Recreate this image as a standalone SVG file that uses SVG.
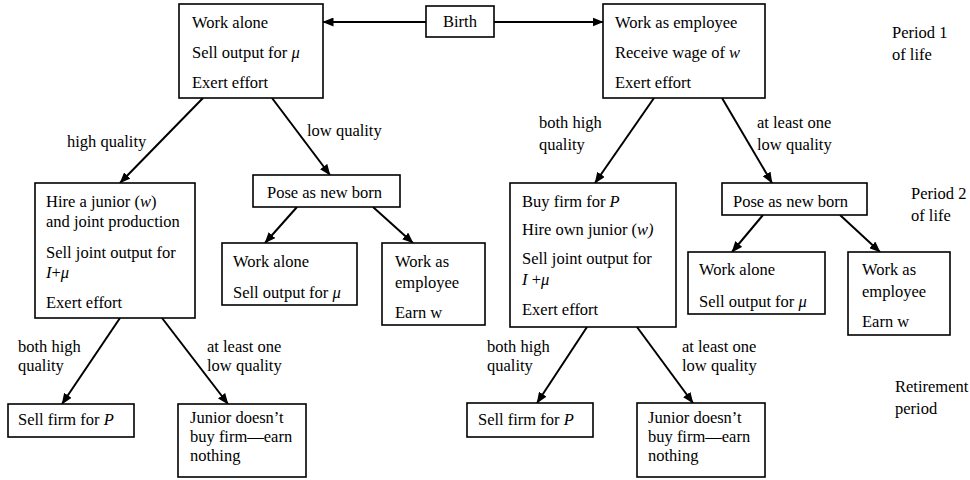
<svg xmlns="http://www.w3.org/2000/svg" width="970" height="480" viewBox="0 0 970 480">
<defs>
<marker id="arr" viewBox="0 0 11 9" refX="10.5" refY="4.5" markerWidth="11" markerHeight="9" markerUnits="userSpaceOnUse" orient="auto">
<path d="M0,0 L11,4.5 L0,9 z" fill="#000"/>
</marker>
<style>
rect{fill:#fff;stroke:#000;stroke-width:1.6}
text{font-family:"Liberation Serif","Times New Roman",serif;font-size:16.5px;fill:#000}
.i{font-style:italic}
#connectors line{stroke:#000;stroke-width:2;marker-end:url(#arr)}
</style>
</defs>
<rect x="0" y="0" width="970" height="480" style="fill:#fff;stroke:none"/>

<g id="connectors">
<line x1="426" y1="22" x2="323" y2="22"/>
<line x1="494" y1="22" x2="603" y2="22"/>
<line x1="203" y1="98" x2="120" y2="183"/>
<line x1="272" y1="98" x2="330" y2="175"/>
<line x1="297" y1="207" x2="265" y2="243"/>
<line x1="373" y1="207" x2="413" y2="243"/>
<line x1="120" y1="318" x2="62" y2="404"/>
<line x1="162" y1="318" x2="228" y2="404"/>
<line x1="654" y1="98" x2="595" y2="183"/>
<line x1="722" y1="98" x2="772" y2="183"/>
<line x1="763" y1="215" x2="732" y2="252"/>
<line x1="840" y1="215" x2="880" y2="252"/>
<line x1="587" y1="327" x2="537" y2="403"/>
<line x1="637" y1="327" x2="693" y2="403"/>
</g>

<g id="labels">
<text x="67" y="147">high  quality</text>
<text x="307" y="136">low quality</text>
<text x="539" y="128">both high</text>
<text x="539" y="150">quality</text>
<text x="757" y="128">at least one</text>
<text x="757" y="150">low quality</text>
<text x="18" y="352">both high</text>
<text x="18" y="371">quality</text>
<text x="207" y="352">at least one</text>
<text x="207" y="371">low quality</text>
<text x="487" y="352">both high</text>
<text x="487" y="371">quality</text>
<text x="682" y="352">at least one</text>
<text x="682" y="371">low quality</text>
<text x="892" y="38">Period 1</text>
<text x="892" y="60">of life</text>
<text x="911" y="199">Period 2</text>
<text x="911" y="221">of life</text>
<text x="895" y="392">Retirement</text>
<text x="895" y="414">period</text>
</g>

<g id="birth">
<rect x="426" y="6" width="68" height="31"/>
<text x="460" y="27" text-anchor="middle">Birth</text>
</g>

<g id="work-alone-1">
<rect x="179" y="4" width="144" height="94"/>
<text x="192" y="28">Work alone</text>
<text x="192" y="58">Sell output for <tspan class="i">μ</tspan></text>
<text x="192" y="88">Exert effort</text>
</g>

<g id="employee-1">
<rect x="603" y="4" width="162" height="94"/>
<text x="615" y="28">Work as employee</text>
<text x="615" y="58">Receive wage of <tspan class="i">w</tspan></text>
<text x="615" y="88">Exert effort</text>
</g>

<g id="hire-junior">
<rect x="35" y="183" width="160" height="135"/>
<text x="46" y="207">Hire a junior (<tspan class="i">w</tspan>)</text>
<text x="46" y="227">and joint production</text>
<text x="46" y="258">Sell joint output for</text>
<text x="46" y="278"><tspan class="i">I</tspan>+<tspan class="i">μ</tspan></text>
<text x="46" y="308">Exert effort</text>
</g>

<g id="pose-left">
<rect x="253" y="175" width="147" height="32"/>
<text x="267" y="198">Pose as new born</text>
</g>

<g id="work-alone-left">
<rect x="222" y="243" width="135" height="62"/>
<text x="233" y="267">Work alone</text>
<text x="233" y="298">Sell output for <tspan class="i">μ</tspan></text>
</g>

<g id="employee-left">
<rect x="382" y="243" width="103" height="82"/>
<text x="395" y="267">Work as</text>
<text x="395" y="288">employee</text>
<text x="395" y="318">Earn w</text>
</g>

<g id="sell-firm-left">
<rect x="8" y="404" width="126" height="33"/>
<text x="18" y="425">Sell firm for <tspan class="i">P</tspan></text>
</g>

<g id="junior-left">
<rect x="178" y="404" width="128" height="73"/>
<text x="190" y="423">Junior doesn’t</text>
<text x="190" y="442">buy firm—earn</text>
<text x="190" y="461">nothing</text>
</g>

<g id="buy-firm">
<rect x="510" y="183" width="166" height="144"/>
<text x="522" y="207">Buy firm for <tspan class="i">P</tspan></text>
<text x="522" y="235">Hire own junior (<tspan class="i">w)</tspan></text>
<text x="522" y="264">Sell joint output for</text>
<text x="522" y="285"><tspan class="i">I</tspan> +<tspan class="i">μ</tspan></text>
<text x="522" y="315">Exert effort</text>
</g>

<g id="pose-right">
<rect x="722" y="183" width="145" height="32"/>
<text x="733" y="207">Pose as new born</text>
</g>

<g id="work-alone-right">
<rect x="688" y="252" width="137" height="62"/>
<text x="699" y="275">Work alone</text>
<text x="699" y="307">Sell output for <tspan class="i">μ</tspan></text>
</g>

<g id="employee-right">
<rect x="848" y="252" width="102" height="83"/>
<text x="862" y="275">Work as</text>
<text x="862" y="297">employee</text>
<text x="862" y="327">Earn w</text>
</g>

<g id="sell-firm-right">
<rect x="467" y="403" width="126" height="34"/>
<text x="478" y="425">Sell firm for <tspan class="i">P</tspan></text>
</g>

<g id="junior-right">
<rect x="637" y="403" width="128" height="74"/>
<text x="648" y="423">Junior doesn’t</text>
<text x="648" y="442">buy firm—earn</text>
<text x="648" y="461">nothing</text>
</g>
</svg>
